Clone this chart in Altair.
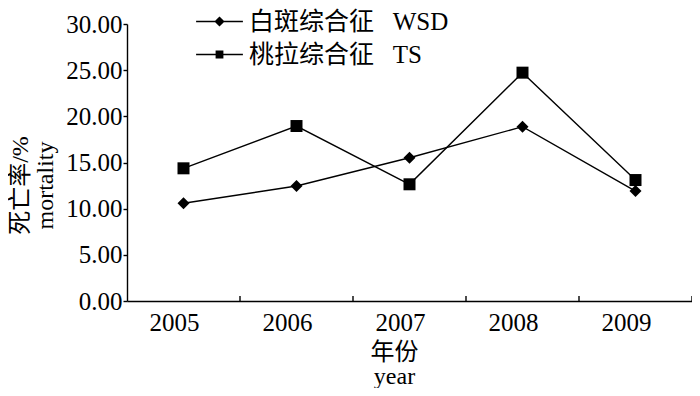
import altair as alt
import pandas as pd

years = ["2005", "2006", "2007", "2008", "2009"]
wsd = [10.58, 12.46, 15.52, 18.88, 11.90]
ts = [14.37, 18.95, 12.64, 24.73, 13.10]
series_names = ["白斑综合征\u00a0\u00a0\u00a0WSD", "桃拉综合征\u00a0\u00a0\u00a0TS"]
y_ticks = [0, 5, 10, 15, 20, 25, 30]

rows = []
for name, vals in zip(series_names, [wsd, ts]):
    for yr, v in zip(years, vals):
        rows.append({"year": yr, "series": name, "value": v})
df = pd.DataFrame(rows)
years_df = pd.DataFrame({"year": years})

FONT = "Liberation Serif, Noto Sans CJK SC"
x_scale = alt.Scale(type="band", domain=years, paddingInner=0, paddingOuter=0)

x_axis = alt.Axis(
    title=["年份", "year"],
    labelAngle=0,
    ticks=False,
    labelPadding=29,
    labelBaseline="alphabetic",
    labelOffset=-9,
    labelFont=FONT,
    labelFontSize=25,
    labelColor="black",
    domainColor="black",
    domainWidth=1.4,
    titleFont=FONT,
    titleFontSize=24,
    titleFontWeight="normal",
    titleColor="black",
    titleX=267,
    titleY=58,
    titleBaseline="alphabetic",
    titleLineHeight=24,
)

x_enc = alt.X("year:N", scale=x_scale, axis=x_axis)

y_enc = alt.Y(
    "value:Q",
    scale=alt.Scale(domain=[0, 30], nice=False),
    axis=alt.Axis(
        title=["死亡率/%", "mortality"],
        values=y_ticks,
        format=".2f",
        grid=False,
        tickSize=4,
        labelPadding=1,
        labelFont=FONT,
        labelFontSize=25,
        labelColor="black",
        domainColor="black",
        domainWidth=1.4,
        tickColor="black",
        tickWidth=1.4,
        titleFont=FONT,
        titleFontSize=24,
        titleFontWeight="normal",
        titleColor="black",
        titleAngle=270,
        titleX=-100,
        titleY=161,
        titleAlign="center",
        titleBaseline="alphabetic",
        titleLineHeight=25,
    ),
)

# inward ticks at the right edge of each year band
x_ticks = alt.Chart(years_df).mark_rule(color="black", strokeWidth=1.4).encode(
    x=alt.X("year:N", scale=x_scale, bandPosition=1, axis=x_axis),
    y=alt.value(277),
    y2=alt.value(272),
)

lines = alt.Chart(df).mark_line(color="black", strokeWidth=1.4).encode(
    x=x_enc, y=y_enc, detail="series:N"
)

points = alt.Chart(df).mark_point(filled=True, color="black", opacity=1, size=144).encode(
    x=x_enc,
    y=y_enc,
    shape=alt.Shape(
        "series:N",
        scale=alt.Scale(domain=series_names, range=["diamond", "square"]),
        legend=None,
    ),
)

legend_paths = [
    "M-3.9,-0.11H3.9V0.11H-3.9Z M0,-0.85L0.85,0L0,0.85L-0.85,0Z",
    "M-3.9,-0.11H3.9V0.11H-3.9Z M-0.65,-0.65H0.65V0.65H-0.65Z",
]

legend_layer = (
    alt.Chart(df)
    .transform_filter("datum.value < -1")
    .mark_point(filled=True, color="black", opacity=1, size=144)
    .encode(
        x=x_enc,
        y=y_enc,
        shape=alt.Shape(
            "series:N",
            scale=alt.Scale(domain=series_names, range=legend_paths),
            legend=alt.Legend(
                title=None,
                orient="none",
                legendX=80,
                legendY=-15,
                direction="vertical",
                padding=0,
                labelFont=FONT,
                labelFontSize=25,
                labelColor="black",
                labelOffset=17,
                labelLimit=500,
                rowPadding=7,
                symbolSize=144,
                symbolFillColor="black",
                symbolStrokeWidth=0,
                symbolOpacity=1,
            ),
        ),
    )
)

chart = (
    alt.layer(lines, x_ticks, points, legend_layer)
    .resolve_scale(shape="independent")
    .properties(
        width=565,
        height=277,
        padding={"left": 119, "top": 16, "right": 0, "bottom": 87},
        autosize=alt.AutoSizeParams(type="none"),
        background="white",
    )
    .configure_view(stroke=None)
)

chart.save("out.html", embed_options={"renderer": "svg", "actions": False})
